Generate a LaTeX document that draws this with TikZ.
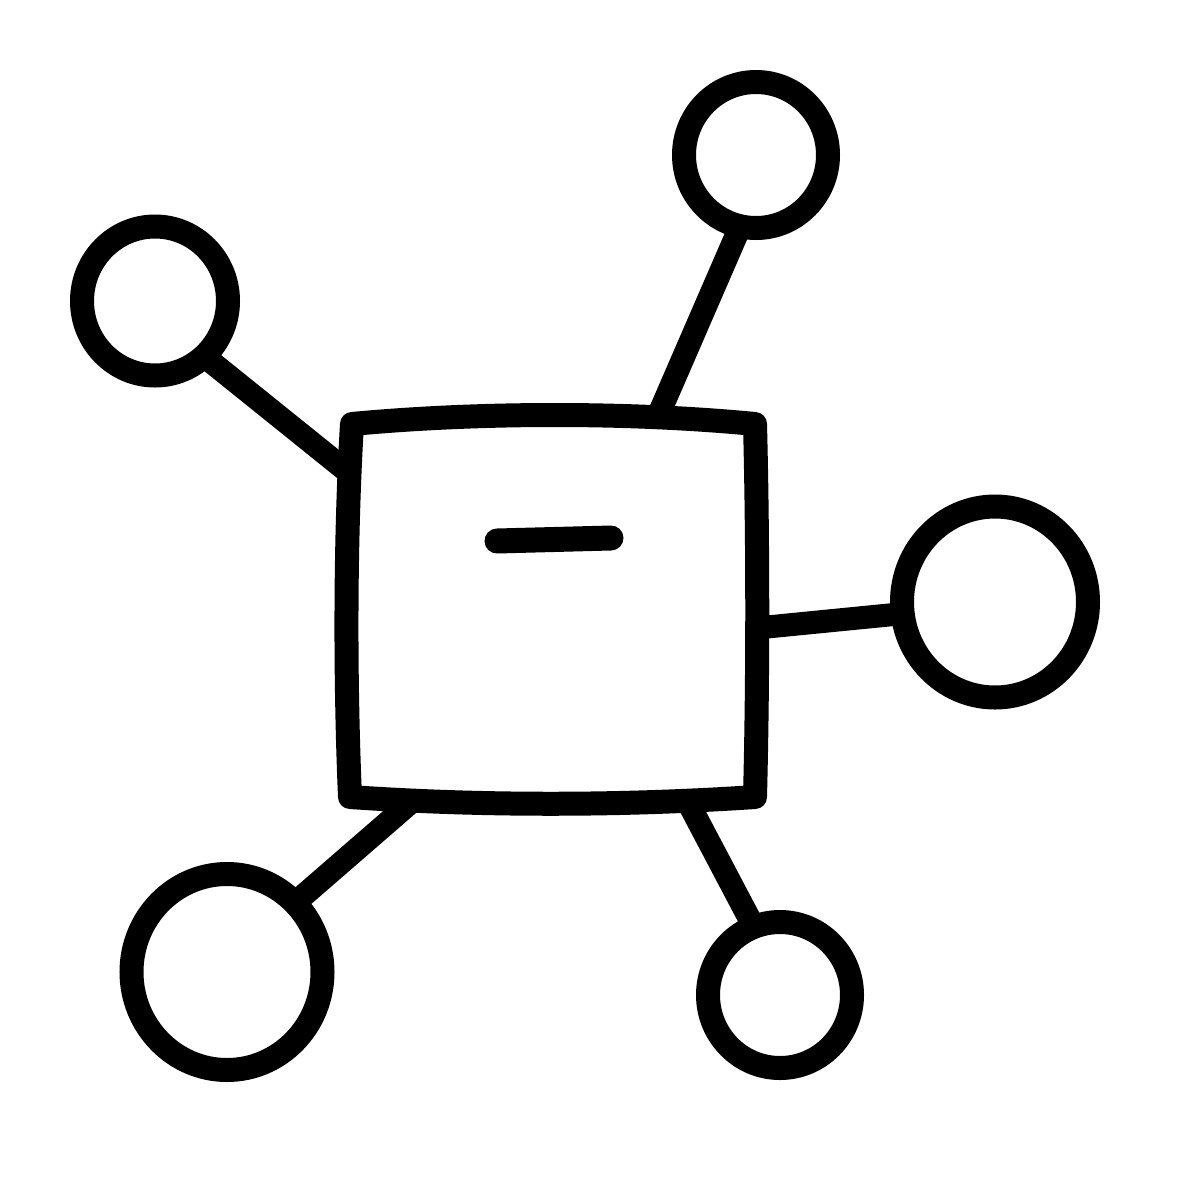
\documentclass[tikz,border=0pt]{standalone}
\usetikzlibrary{shapes.geometric,backgrounds}
\tikzset{
  bub/.style={draw=black, ellipse, line width=24pt, inner sep=0pt, fill=white},
  link/.style={draw=black, line width=23pt, shorten <=-16pt},
  frame/.style={draw=black, line width=24pt, line join=round, fill=white},
  bar/.style={draw=black, line width=25pt, line cap=round}
}
\begin{document}
\begin{tikzpicture}[x=1pt,y=-1pt]
\useasboundingbox (0,0) rectangle (1200,1200);
% bubbles
\node[bub, minimum width=146pt, minimum height=149pt] (n1) at (155,301) {};
\node[bub, minimum width=144pt, minimum height=146pt] (n2) at (756,155) {};
\node[bub, minimum width=186pt, minimum height=191pt] (n3) at (995,602) {};
\node[bub, minimum width=191pt, minimum height=196pt] (n4) at (227,972) {};
\node[bub, minimum width=144pt, minimum height=146pt] (n5) at (780,995) {};
% attachment points on the box
\coordinate (pL) at (348,472);
\coordinate (pT) at (658,416);
\coordinate (pR) at (757,628);
\coordinate (pBL) at (410,803);
\coordinate (pBR) at (690,806);
% connectors, behind everything else
\begin{scope}[on background layer]
\fill[white] (0,0) rectangle (1200,1200);
\draw[link] (n1.-47) -- (pL);
\draw[link] (n2.-104) -- (pT);
\draw[link] (n3.-173) -- (pR);
\draw[link] (n4.45) -- (pBL);
\draw[link] (n5.112) -- (pBR);
\end{scope}
% box
\path[frame] (352,424) .. controls (480,412) and (630,412) .. (755,424)
  .. controls (758,540) and (758,680) .. (755,797)
  .. controls (620,806) and (480,806) .. (350,797)
  .. controls (345,680) and (345,540) .. cycle;
\node[coordinate] (b1) at (497,541) {};
\node[coordinate] (b2) at (611,538) {};
\draw[bar] (b1) -- (b2);
\end{tikzpicture}
\end{document}
